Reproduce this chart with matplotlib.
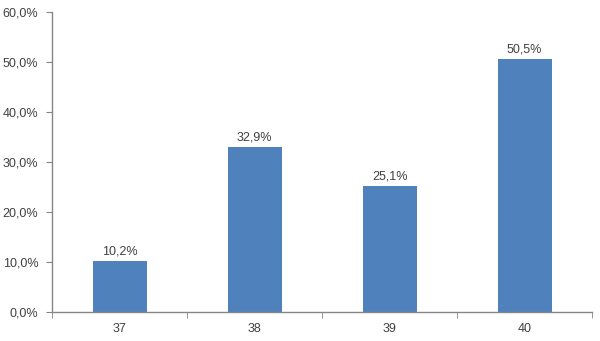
import matplotlib.pyplot as plt
from matplotlib.ticker import FuncFormatter, FixedLocator

categories = ['37', '38', '39', '40']
values = [10.2, 32.9, 25.1, 50.5]

plt.rcParams['font.family'] = ['Liberation Sans', 'DejaVu Sans']

fig = plt.figure(figsize=(6, 3.41), dpi=100)
ax = fig.add_axes([0.087, 0.085, 0.9, 0.88])

x = list(range(len(categories)))
bars = ax.bar(x, values, width=0.4, color='#4F81BD', zorder=2)

for xi, v in zip(x, values):
    ax.text(xi, v + 0.8, f'{v:.1f}%'.replace('.', ','), ha='center', va='bottom',
            fontsize=9, color='#404040')

ax.set_xlim(-0.5, len(categories) - 0.5)
ax.set_ylim(0, 60)
ax.set_yticks(range(0, 61, 10))
ax.yaxis.set_major_formatter(FuncFormatter(lambda v, p: f'{v:.1f}%'.replace('.', ',')))

ax.set_xticks(x)
ax.set_xticklabels(categories)
ax.xaxis.set_minor_locator(FixedLocator([i - 0.5 for i in range(len(categories) + 1)]))
ax.tick_params(axis='x', which='major', length=0, pad=8)
ax.tick_params(axis='x', which='minor', length=4, color='#868686', direction='out')
ax.tick_params(axis='y', length=4, color='#868686', direction='out', pad=6)
ax.tick_params(labelsize=9, labelcolor='#404040')

for side in ['top', 'right']:
    ax.spines[side].set_visible(False)
for side in ['left', 'bottom']:
    ax.spines[side].set_color('#868686')
    ax.spines[side].set_linewidth(1)

fig.savefig('out.png', dpi=100)
